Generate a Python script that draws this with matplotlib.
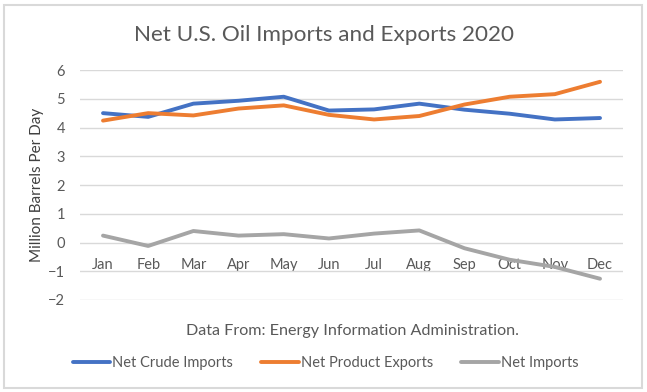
import matplotlib
matplotlib.use('Agg')
import matplotlib.pyplot as plt
from matplotlib.patches import Rectangle

months = ['Jan', 'Feb', 'Mar', 'Apr', 'May', 'Jun', 'Jul', 'Aug', 'Sep', 'Oct', 'Nov', 'Dec']
crude_imports = [4.50, 4.37, 4.83, 4.93, 5.07, 4.59, 4.63, 4.83, 4.62, 4.48, 4.28, 4.33]
product_exports = [4.24, 4.50, 4.42, 4.66, 4.77, 4.44, 4.28, 4.40, 4.80, 5.07, 5.16, 5.59]
net_imports = [0.24, -0.12, 0.40, 0.24, 0.29, 0.14, 0.31, 0.42, -0.20, -0.60, -0.85, -1.26]

plt.rcParams['font.family'] = ['Lato', 'DejaVu Sans']
txt = '#595959'

fig = plt.figure(figsize=(6.47, 3.92), dpi=100)
fig.patches.append(Rectangle((0.006, 0.01), 0.986, 0.978, transform=fig.transFigure,
                             fill=False, edgecolor='#d9d9d9', linewidth=1.5))

ax = fig.add_axes([0.1243, 0.2347, 0.838, 0.5867])
x = list(range(len(months)))
ax.plot(x, crude_imports, color='#4472C4', lw=2.8, label='Net Crude Imports', solid_capstyle='round')
ax.plot(x, product_exports, color='#ED7D31', lw=2.8, label='Net Product Exports', solid_capstyle='round')
ax.plot(x, net_imports, color='#A5A5A5', lw=2.8, label='Net Imports', solid_capstyle='round')

ax.set_xlim(-0.5, 11.5)
ax.set_ylim(-2, 6)
ax.set_yticks(range(-2, 7))
ax.grid(axis='y', color='#d9d9d9', lw=1)
ax.set_axisbelow(True)
for s in ['top', 'right', 'left']:
    ax.spines[s].set_visible(False)
ax.spines['bottom'].set_position(('data', 0))
ax.spines['bottom'].set_visible(False)
ax.set_xticks(x)
ax.set_xticklabels(months)
ax.tick_params(axis='x', length=0, pad=11.5, labelsize=10.5, labelcolor=txt)
ax.tick_params(axis='y', length=0, pad=11, labelsize=10.5, labelcolor=txt)
ax.set_ylabel('Million Barrels Per Day', fontsize=11, color='#404040', labelpad=3)

fig.text(0.5, 0.911, 'Net U.S. Oil Imports and Exports 2020', ha='center', va='center',
         fontsize=16.2, color=txt)
fig.text(0.544, 0.156, 'Data From: Energy Information Administration.', ha='center', va='center',
         fontsize=11.6, color=txt)

fig.legend(loc='center', bbox_to_anchor=(0.503, 0.073), ncol=3, frameon=False,
           fontsize=10.5, labelcolor=txt, handlelength=2.6, handletextpad=0.1, columnspacing=1.95)

fig.savefig('out.png', dpi=100)
